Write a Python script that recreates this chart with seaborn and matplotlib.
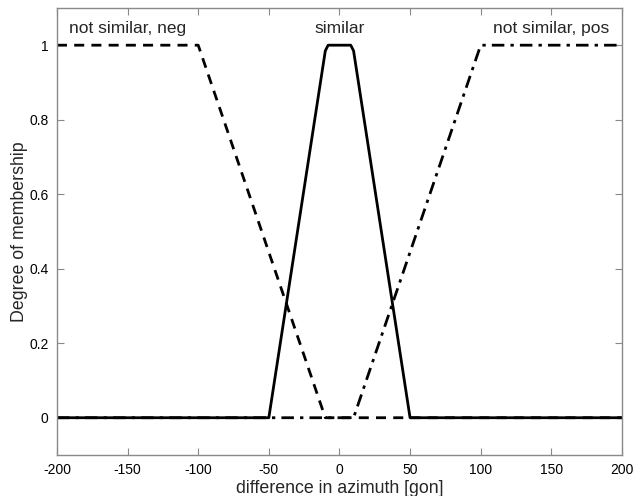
import matplotlib
matplotlib.use("Agg")
import matplotlib.pyplot as plt
import seaborn as sns
import pandas as pd

# Membership functions for the azimuth difference (gon)
neg_x = [-200, -100, -10, 200]
neg_y = [1, 1, 0, 0]

sim_x = [-200, -50, -10, -8, 8, 10, 50, 200]
sim_y = [0, 0, 0.985, 1, 1, 0.985, 0, 0]

pos_x = [-200, 10, 100, 200]
pos_y = [0, 0, 1, 1]

labels = ["not similar, neg", "similar", "not similar, pos"]
label_x = [-150, 0, 150]
label_y = [1.045, 1.045, 1.045]

sns.set_style("ticks")
plt.rcParams["font.family"] = ["Liberation Sans", "DejaVu Sans"]
plt.rcParams["axes.unicode_minus"] = False

fig = plt.figure(figsize=(6.43, 4.96), dpi=100)
ax = fig.add_axes([0.0886, 0.0827, 0.8786, 0.9013])

neg = pd.DataFrame({"x": neg_x, "y": neg_y})
sim = pd.DataFrame({"x": sim_x, "y": sim_y})
pos = pd.DataFrame({"x": pos_x, "y": pos_y})

sns.lineplot(data=pos, x="x", y="y", ax=ax, color="black", lw=2,
             sort=False, linestyle=(0, (4.5, 2.2, 1.2, 2.2)))
sns.lineplot(data=neg, x="x", y="y", ax=ax, color="black", lw=2,
             sort=False, linestyle=(0, (3.6, 2.6)))
sns.lineplot(data=sim, x="x", y="y", ax=ax, color="black", lw=2,
             sort=False)

for t, tx, ty in zip(labels, label_x, label_y):
    ax.text(tx, ty, t, ha="center", va="center", fontsize=12.5)

ax.set_xlim(-200, 200)
ax.set_ylim(-0.1, 1.1)
ax.set_xticks(range(-200, 201, 50))
ax.set_yticks([0, 0.2, 0.4, 0.6, 0.8, 1])
ax.set_yticklabels(["0", "0.2", "0.4", "0.6", "0.8", "1"])
ax.set_xlabel("difference in azimuth [gon]", fontsize=12.8, labelpad=2)
ax.set_ylabel("Degree of membership", fontsize=12.8, va="center")
ax.yaxis.set_label_coords(-0.066, 0.5)

for s in ax.spines.values():
    s.set_visible(True)
    s.set_color("#8a8a8a")
    s.set_linewidth(1.0)
ax.tick_params(direction="in", length=5, width=0.8, color="#8a8a8a",
               labelsize=10, labelcolor="black", top=True, right=True, pad=6)

fig.savefig("out.png", dpi=100)
